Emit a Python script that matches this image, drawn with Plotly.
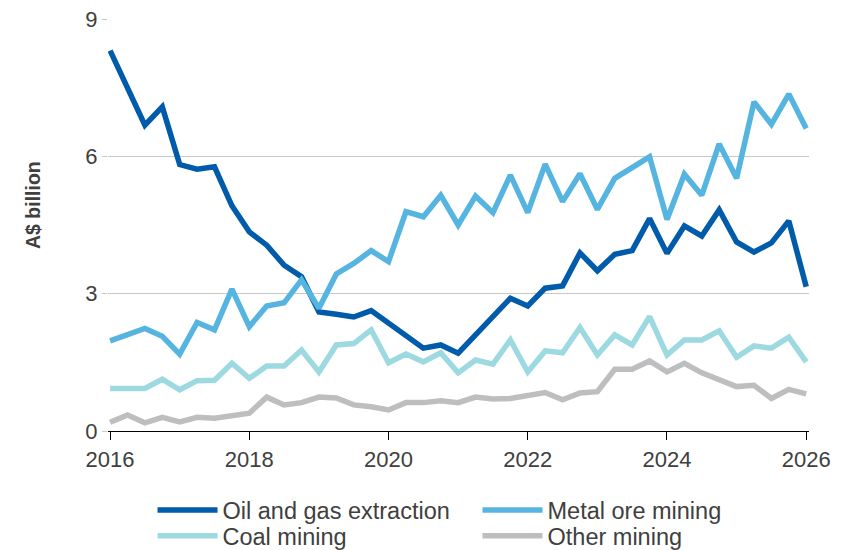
import plotly.graph_objects as go

# Quarterly mining investment, A$ billion, March quarter 2016 onwards
start_year = 2016.0
n_quarters = 41
quarters = [start_year + 0.25 * i for i in range(n_quarters)]

oil_gas = [8.31, 7.50, 6.68, 7.08, 5.82, 5.72, 5.77, 4.92, 4.35, 4.06, 3.62, 3.37,
           2.60, 2.55, 2.49, 2.63, 2.36, 2.08, 1.81, 1.88, 1.70, 2.10, 2.50, 2.90,
           2.73, 3.12, 3.17, 3.89, 3.50, 3.86, 3.94, 4.64, 3.88, 4.48, 4.26, 4.83,
           4.13, 3.91, 4.11, 4.59, 3.15]

metal_ore = [1.97, 2.10, 2.24, 2.07, 1.68, 2.37, 2.21, 3.10, 2.28, 2.73, 2.80, 3.30,
             2.68, 3.43, 3.66, 3.94, 3.70, 4.79, 4.68, 5.15, 4.50, 5.13, 4.77, 5.59,
             4.77, 5.83, 5.01, 5.62, 4.84, 5.52, 5.75, 5.99, 4.62, 5.61, 5.15, 6.27,
             5.52, 7.19, 6.70, 7.36, 6.61]

coal = [0.93, 0.93, 0.93, 1.13, 0.90, 1.10, 1.11, 1.48, 1.15, 1.42, 1.42, 1.77,
        1.29, 1.88, 1.91, 2.21, 1.49, 1.68, 1.51, 1.71, 1.27, 1.55, 1.46, 1.99,
        1.29, 1.75, 1.71, 2.26, 1.66, 2.10, 1.88, 2.50, 1.66, 1.99, 1.99, 2.19,
        1.61, 1.86, 1.81, 2.05, 1.51]

other = [0.19, 0.35, 0.18, 0.30, 0.20, 0.30, 0.28, 0.35, 0.39, 0.74, 0.57, 0.62,
         0.74, 0.72, 0.57, 0.53, 0.46, 0.62, 0.62, 0.66, 0.62, 0.74, 0.70, 0.71,
         0.79, 0.84, 0.68, 0.83, 0.86, 1.35, 1.35, 1.53, 1.29, 1.48, 1.27, 1.13,
         0.97, 1.00, 0.71, 0.91, 0.81]

series_names = ["Oil and gas extraction", "Metal ore mining", "Coal mining", "Other mining"]
series_values = [oil_gas, metal_ore, coal, other]
series_colors = ["#005BAA", "#56B4E0", "#9DD9E0", "#BCBEC0"]
# two legend rows: first two series on the top row, the others beneath
series_legend = ["legend", "legend", "legend2", "legend2"]

x_ticks = [2016, 2018, 2020, 2022, 2024, 2026]
y_ticks = [0, 3, 6, 9]
y_title = "A$ billion"

FONT = "Arial, Liberation Sans, sans-serif"
TEXT = "#404040"

fig = go.Figure()
for name, vals, color, leg in zip(series_names, series_values, series_colors, series_legend):
    fig.add_trace(go.Scatter(
        x=quarters, y=vals, name=name, mode="lines",
        line=dict(color=color, width=5.5),
        legend=leg,
        hoverinfo="x+y+name",
    ))

legend_common = dict(
    orientation="h",
    x=0.0635, xanchor="left",
    yanchor="middle",
    entrywidth=250, entrywidthmode="pixels",
    itemwidth=60,
    font=dict(family=FONT, size=23.5, color=TEXT),
    bgcolor="rgba(0,0,0,0)",
)

fig.update_layout(
    width=848, height=550,
    margin=dict(l=108, r=39, t=19, b=119, autoexpand=False),
    plot_bgcolor="white", paper_bgcolor="white",
    font=dict(family=FONT, size=22, color=TEXT),
    showlegend=True,
    legend=dict(legend_common, y=-0.192),
    legend2=dict(legend_common, y=-0.255),
    xaxis=dict(
        range=[2015.97, 2026.04],
        tickmode="array", tickvals=x_ticks, ticktext=[str(t) for t in x_ticks],
        showgrid=False, zeroline=False,
        showline=True, linecolor="black", linewidth=1.2,
        ticks="outside", ticklen=8, tickcolor="black", tickwidth=1.2,
        tickfont=dict(family=FONT, size=22, color=TEXT),
    ),
    yaxis=dict(
        range=[0, 9],
        tickmode="array", tickvals=y_ticks, ticktext=[str(t) for t in y_ticks],
        showgrid=True, gridcolor="#C8C8C8", gridwidth=1.2,
        zeroline=False, showline=False,
        ticks="outside", ticklen=5, tickcolor="#C8C8C8",
        tickfont=dict(family=FONT, size=22, color=TEXT),
    ),
    annotations=[dict(
        text=f"<b>{y_title}</b>", textangle=-90,
        xref="paper", yref="paper", x=-0.107, y=0.5485,
        xanchor="center", yanchor="middle", showarrow=False,
        font=dict(family=FONT, size=19.5, color=TEXT),
    )],
)

fig.write_html("out.html")
